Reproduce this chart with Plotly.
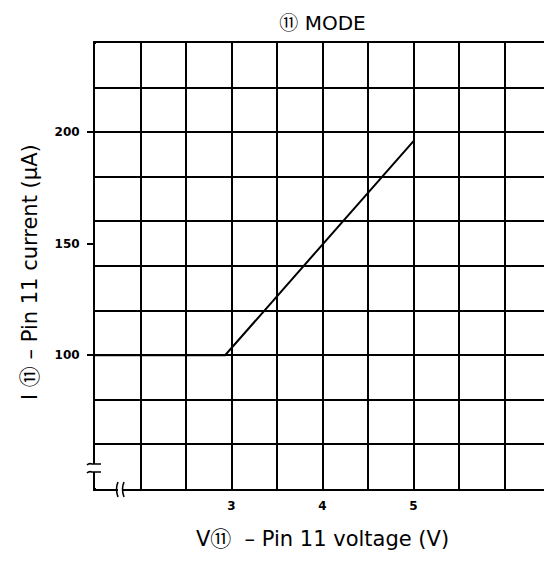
import plotly.graph_objects as go

# ---- data ----
voltage_v = [1.5, 2.93, 5.0]
current_ua = [100, 100, 196]

x_grid_vals = [1.5, 2.0, 2.5, 3.0, 3.5, 4.0, 4.5, 5.0, 5.5, 6.0, 6.5]
x_label_vals = [3, 4, 5]
x_label_text = ["3", "4", "5"]
y_grid_vals = [40, 60, 80, 100, 120, 140, 160, 180, 200, 220, 240]
y_label_vals = [100, 150, 200]
y_label_text = ["100", "150", "200"]

CIRC = "<span style='font-family:Noto Sans CJK JP'>⑪</span>"
CIRC_T = "<span style='font-family:Noto Sans CJK JP;font-size:19px'>⑪</span>"
title_text = f"{CIRC_T} MODE"
x_title = f"V{CIRC}  – Pin 11 voltage (V)"
y_title = f"I {CIRC} – Pin 11 current (µA)"

OFF = 8  # page body margin
W, H = 544, 557
L, R, T, B = 87, 2, 35, 76
PW, PH = W - L - R, H - T - B

fig = go.Figure()
fig.add_trace(go.Scatter(x=voltage_v, y=current_ua, mode="lines",
                         line=dict(color="black", width=2), showlegend=False,
                         hoverinfo="skip"))

tick_font = dict(family="DejaVu Sans", size=12, color="black", weight="bold")
title_font = dict(family="DejaVu Sans", size=21, color="black")


def px(xp):
    return (xp - OFF - L) / PW


def py(yp):
    return (H - B - (yp - OFF)) / PH


fig.update_layout(
    width=W, height=H,
    margin=dict(l=L, r=R, t=T, b=B, autoexpand=False),
    paper_bgcolor="white", plot_bgcolor="white",
    title=dict(text=title_text, x=0.5, xref="paper", xanchor="center",
               y=1 - (23 - OFF) / H, yref="container", yanchor="middle",
               font=dict(family="DejaVu Sans", size=20, color="black")),
    xaxis=dict(range=[1.5, 6.5], tickmode="array", tickvals=x_label_vals,
               ticktext=x_label_text, showgrid=False, zeroline=False,
               showline=True, linecolor="black", linewidth=2, mirror=True,
               ticks="outside", ticklen=0, tickfont=tick_font,
               ticklabelstandoff=5,
               minor=dict(tickmode="array", tickvals=x_grid_vals,
                          ticks="inside", ticklen=1, tickcolor="black",
                          showgrid=True, gridcolor="black", gridwidth=1.6),
               title=dict(text=x_title, font=title_font, standoff=19),
               fixedrange=True, automargin=False),
    yaxis=dict(range=[40, 240], tickmode="array", tickvals=y_label_vals,
               ticktext=y_label_text, showgrid=False, zeroline=False,
               showline=True, linecolor="black", linewidth=2, mirror=True,
               ticks="outside", ticklen=6, tickwidth=1.5, tickcolor="black",
               tickfont=tick_font, ticklabelstandoff=5,
               minor=dict(tickmode="array", tickvals=y_grid_vals,
                          ticks="inside", ticklen=1, tickcolor="black",
                          showgrid=True, gridcolor="black", gridwidth=1.6),
               fixedrange=True, automargin=False),
    annotations=[dict(text=y_title, xref="paper", yref="paper",
                      x=px(28), y=py(272), xanchor="center", yanchor="middle",
                      textangle=-90, showarrow=False, font=title_font)],
)

# axis break marks (decorations, given in page pixels -> paper coords)
shapes = []
shapes.append(dict(type="rect", xref="paper", yref="paper",
                   x0=px(93), x1=px(97), y0=py(472), y1=py(464),
                   fillcolor="white", line=dict(width=0), layer="above"))
for yy in (464, 472):
    shapes.append(dict(type="path", xref="paper", yref="paper",
                       path=f"M {px(87)},{py(yy + 1)} Q {px(89)},{py(yy - 1)} {px(92)},{py(yy)} L {px(101)},{py(yy)}",
                       line=dict(color="black", width=1.6), layer="above"))
shapes.append(dict(type="rect", xref="paper", yref="paper",
                   x0=px(118), x1=px(122), y0=py(491), y1=py(487),
                   fillcolor="white", line=dict(width=0), layer="above"))
for xx in (117, 123):
    shapes.append(dict(type="path", xref="paper", yref="paper",
                       path=f"M {px(xx + 1)},{py(482)} Q {px(xx - 2)},{py(489)} {px(xx + 1)},{py(497)}",
                       line=dict(color="black", width=1.6), layer="above"))
fig.update_layout(shapes=shapes)

fig.write_html("out.html")
